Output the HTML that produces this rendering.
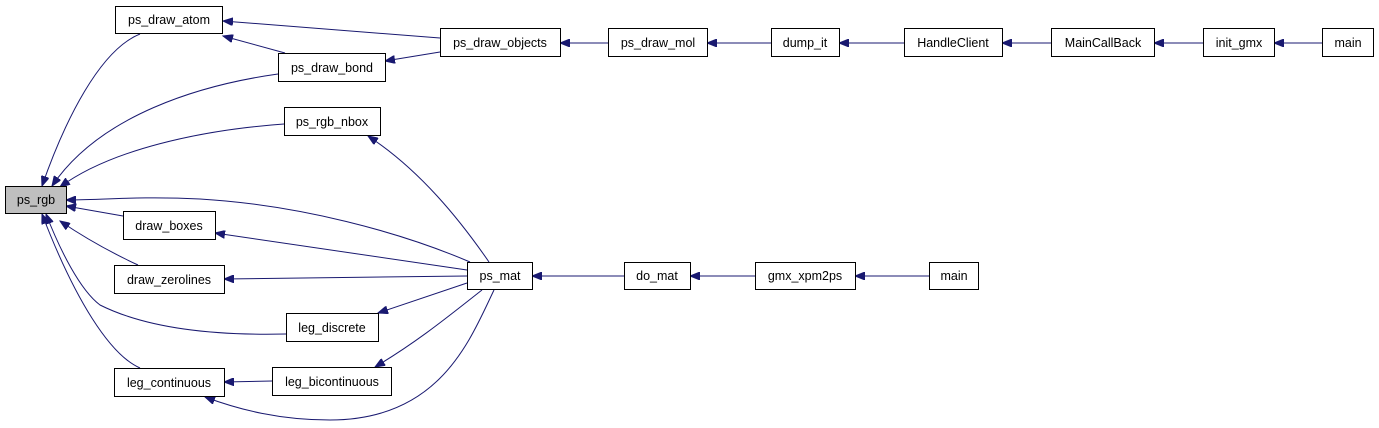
<!DOCTYPE html>
<html><head><meta charset="utf-8"><style>
html,body{margin:0;padding:0;background:#fff;}
svg{display:block;}
text{font-family:"Liberation Sans",Arial,sans-serif;font-size:12.5px;fill:#000;text-anchor:middle;}
rect{fill:#fff;stroke:#000;stroke-width:1;}
path.e{fill:none;stroke:#191970;stroke-width:1;}
</style></head><body>
<svg width="1379" height="428" viewBox="0 0 1379 428">
<defs>
<marker id="a" markerWidth="11" markerHeight="8" refX="10" refY="4" orient="auto" markerUnits="userSpaceOnUse">
<path d="M0,0 L10,4 L0,8 z" fill="#191970" stroke="#191970"/>
</marker>
</defs>
<g marker-end="url(#a)">
<path class="e" d="M440,38 L223,21"/>
<path class="e" d="M440,52 L385,61"/>
<path class="e" d="M285,53 L223,36"/>
<path class="e" d="M140,34 C100,50 65,120 42,186"/>
<path class="e" d="M278,74 C200,85 100,115 52,186"/>
<path class="e" d="M284,124 C200,130 110,150 60,187"/>
<path class="e" d="M470,262 C400,232 300,205 200,199 C140,196 100,200 66,200"/>
<path class="e" d="M123,216 L66,206"/>
<path class="e" d="M138,265 C110,252 85,238 60,221"/>
<path class="e" d="M286,334 C200,336 140,325 100,305 C80,290 60,250 46,214"/>
<path class="e" d="M140,368 C110,355 75,300 42,214"/>
<path class="e" d="M489,262 C460,220 420,170 368,136"/>
<path class="e" d="M467,270 L215,233"/>
<path class="e" d="M467,276 L224,279"/>
<path class="e" d="M467,283 L378,313"/>
<path class="e" d="M482,290 C450,315 420,340 375,367"/>
<path class="e" d="M494,290 C470,340 440,420 330,420 C280,420 240,410 205,397"/>
<path class="e" d="M272,381 L224,382"/>
<path class="e" d="M608,43 L560,43"/>
<path class="e" d="M771,43 L707,43"/>
<path class="e" d="M904,43 L839,43"/>
<path class="e" d="M1051,43 L1002,43"/>
<path class="e" d="M1203,43 L1154,43"/>
<path class="e" d="M1322,43 L1274,43"/>
<path class="e" d="M624,276 L532,276"/>
<path class="e" d="M755,276 L690,276"/>
<path class="e" d="M929,276 L855,276"/>
</g>
<rect x="5.5" y="186.5" width="61" height="27" style="fill:#bfbfbf"/><text x="36" y="204">ps_rgb</text>
<rect x="115.5" y="6.5" width="107" height="27"/><text x="169" y="24">ps_draw_atom</text>
<rect x="278.5" y="53.5" width="107" height="28"/><text x="332" y="72">ps_draw_bond</text>
<rect x="440.5" y="28.5" width="120" height="28"/><text x="500" y="47">ps_draw_objects</text>
<rect x="284.5" y="107.5" width="96" height="28"/><text x="332" y="126">ps_rgb_nbox</text>
<rect x="123.5" y="211.5" width="92" height="28"/><text x="169" y="230">draw_boxes</text>
<rect x="114.5" y="265.5" width="110" height="28"/><text x="169" y="284">draw_zerolines</text>
<rect x="286.5" y="313.5" width="92" height="28"/><text x="332" y="332">leg_discrete</text>
<rect x="114.5" y="368.5" width="110" height="28"/><text x="169" y="387">leg_continuous</text>
<rect x="272.5" y="367.5" width="119" height="28"/><text x="332" y="386">leg_bicontinuous</text>
<rect x="467.5" y="262.5" width="65" height="27"/><text x="500" y="280">ps_mat</text>
<rect x="608.5" y="28.5" width="99" height="28"/><text x="658" y="47">ps_draw_mol</text>
<rect x="771.5" y="28.5" width="68" height="28"/><text x="805" y="47">dump_it</text>
<rect x="904.5" y="28.5" width="98" height="28"/><text x="953" y="47">HandleClient</text>
<rect x="1051.5" y="28.5" width="103" height="28"/><text x="1103" y="47">MainCallBack</text>
<rect x="1203.5" y="28.5" width="71" height="28"/><text x="1239" y="47">init_gmx</text>
<rect x="1322.5" y="28.5" width="51" height="28"/><text x="1348" y="47">main</text>
<rect x="624.5" y="262.5" width="66" height="27"/><text x="657" y="280">do_mat</text>
<rect x="755.5" y="262.5" width="100" height="27"/><text x="805" y="280">gmx_xpm2ps</text>
<rect x="929.5" y="262.5" width="49" height="27"/><text x="954" y="280">main</text>
</svg>
</body></html>
